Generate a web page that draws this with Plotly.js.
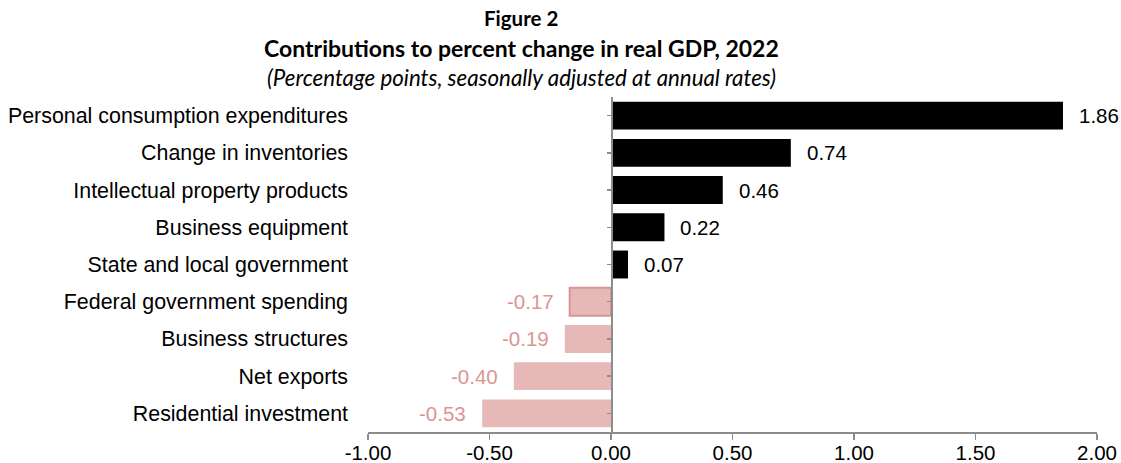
<!DOCTYPE html>
<html>
<head>
<meta charset="utf-8">
<script src="https://cdn.plot.ly/plotly-3.0.1.min.js"></script>
<style>html,body{margin:0;padding:0;background:#fff;}#chart{width:1121px;height:463px;}</style>
</head>
<body>
<div id="chart"></div>
<script>
const categories = [
  "Personal consumption expenditures",
  "Change in inventories",
  "Intellectual property products",
  "Business equipment",
  "State and local government",
  "Federal government spending",
  "Business structures",
  "Net exports",
  "Residential investment"
];
const values = [1.86, 0.74, 0.46, 0.22, 0.07, -0.17, -0.19, -0.40, -0.53];
const xTicks = [-1, -0.5, 0, 0.5, 1, 1.5, 2];
const xTickText = ["-1.00", "-0.50", "0.00", "0.50", "1.00", "1.50", "2.00"];
const titleLine1 = "Figure 2";
const titleLine2 = "Contributions to percent change in real GDP, 2022";
const titleLine3 = "(Percentage points, seasonally adjusted at annual rates)";

const posColor = "#000000";
const negFill = "#E6B8B7";
const negLabel = "#DA9694";
const axisGray = "#8C8C8C";
const labelFont = "Liberation Sans, Arial, sans-serif";
const labelSize = 20.5;

const barColors = values.map(v => v >= 0 ? posColor : negFill);
const lineColors = categories.map(c => c === "Federal government spending" ? "#D99594" : "rgba(0,0,0,0)");
const lineWidths = categories.map(c => c === "Federal government spending" ? 2 : 0);

const trace = {
  type: "bar",
  orientation: "h",
  y: categories,
  x: values,
  width: 0.75,
  marker: {color: barColors, line: {color: lineColors, width: lineWidths}},
  hoverinfo: "none"
};
const axisTrace = {
  type: "scatter", mode: "markers", x: [0], y: [0], yaxis: "y2",
  marker: {opacity: 0}, hoverinfo: "none", showlegend: false
};

const annotations = values.map((v, i) => ({
  x: v, y: categories[i], xref: "x", yref: "y",
  text: v.toFixed(2).replace("\u2212", "-"),
  showarrow: false,
  xanchor: v >= 0 ? "left" : "right",
  xshift: v >= 0 ? 14 : -14,
  font: {family: labelFont, size: labelSize, color: v >= 0 ? posColor : negLabel}
}));
const titleFont = "Lato, 'Open Sans', sans-serif";
const titleAnns = [
  {text: "<b>" + titleLine1 + "</b>", y: 18, size: 20.5},
  {text: "<b>" + titleLine2 + "</b>", y: 48, size: 23},
  {text: "<i>" + titleLine3 + "</i>", y: 77, size: 22.3}
];

const layout = {
  width: 1121, height: 463,
  margin: {l: 368, r: 24, t: 97, b: 31},
  paper_bgcolor: "#fff", plot_bgcolor: "#fff",
  showlegend: false,
  xaxis: {
    range: [-1, 2], tickvals: xTicks, ticktext: xTickText,
    showgrid: false, zeroline: false,
    showline: true, linecolor: axisGray, linewidth: 1.5,
    ticks: "outside", ticklen: 6, tickcolor: axisGray, tickwidth: 1.5,
    ticklabelstandoff: -4,
    tickfont: {family: labelFont, size: labelSize, color: "#000"},
    fixedrange: true
  },
  yaxis: {
    type: "category", categoryorder: "array", categoryarray: categories,
    range: [8.5, -0.5],
    showgrid: false, zeroline: false, showline: false, ticks: "",
    ticklabelstandoff: 19,
    tickfont: {family: labelFont, size: 21.4, color: "#000"},
    fixedrange: true
  },
  yaxis2: {
    overlaying: "y", anchor: "free", position: 1/3, side: "left",
    type: "linear", range: [8.5, -0.5], tickvals: [0,1,2,3,4,5,6,7,8],
    showticklabels: false, showgrid: false, zeroline: false,
    showline: true, linecolor: axisGray, linewidth: 1.5,
    ticks: "outside", ticklen: 4, tickcolor: axisGray, tickwidth: 1.5,
    fixedrange: true
  },
  annotations: annotations.concat(titleAnns.map(t => ({
    xref: "paper", yref: "paper",
    x: (521 - 368) / 729,
    y: 1 + (97 - t.y) / 335,
    yanchor: "middle", xanchor: "center",
    text: t.text, showarrow: false,
    font: {family: titleFont, size: t.size, color: "#000"}
  })))
};

Plotly.newPlot("chart", [trace, axisTrace], layout, {displayModeBar: false, staticPlot: true});
</script>
</body>
</html>
